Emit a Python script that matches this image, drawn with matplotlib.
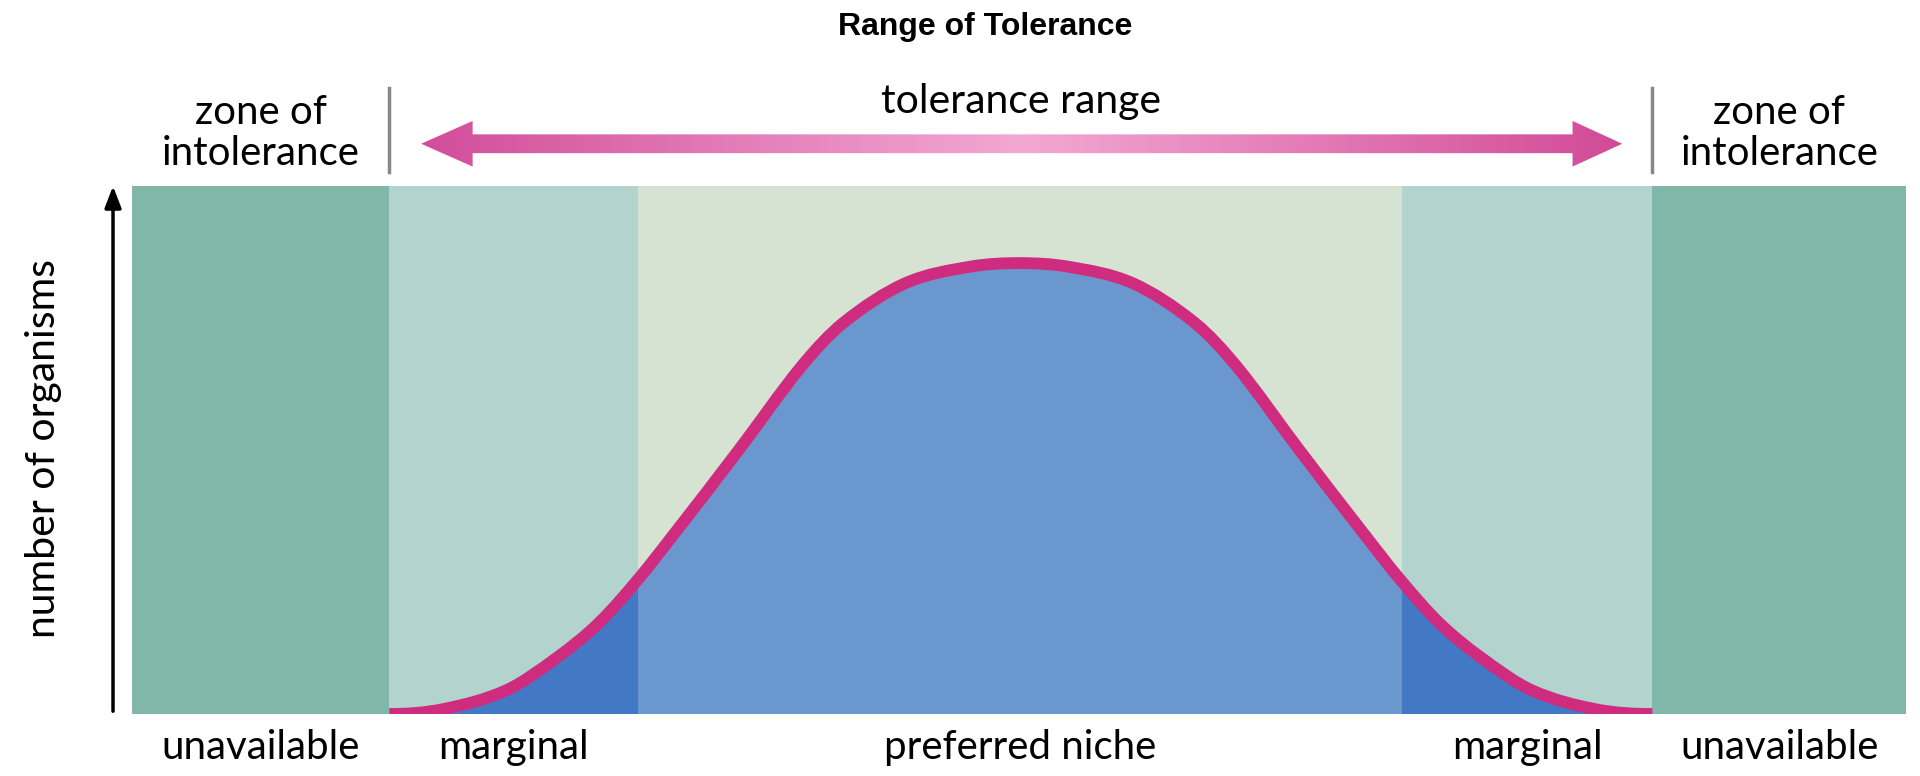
import numpy as np
import matplotlib
matplotlib.use("Agg")
import matplotlib.pyplot as plt
from matplotlib.patches import Polygon, PathPatch, Rectangle
from matplotlib.path import Path
from matplotlib.colors import LinearSegmentedColormap

plt.rcParams['font.family'] = ['Lato', 'DejaVu Sans']

# zones along the environmental gradient (0-100)
zone_edges = [0, 14.5, 28.5, 71.6, 85.7, 100]
zone_labels = ['unavailable', 'marginal', 'preferred niche', 'marginal', 'unavailable']
zone_colors = ['#80b7a8', '#b3d4ce', '#d6e3d3', '#b3d4ce', '#80b7a8']

# population curve
curve_x = [14.5, 17.5, 21.1, 24.0, 26.3, 28.5, 30.6, 34.2, 37.7, 40.1, 43.6, 47.2, 50.0,
           52.8, 56.4, 59.9, 62.3, 65.8, 69.4, 71.5, 73.7, 76.0, 78.9, 82.5, 85.7]
curve_y = [0.0, 0.9, 4.5, 10.8, 17.2, 25.4, 34.3, 50.0, 65.7, 74.1, 81.6, 84.7, 85.4,
           84.7, 81.6, 74.1, 65.7, 50.0, 34.3, 25.4, 17.2, 10.8, 4.5, 0.9, 0.0]


def smooth_path(xs, ys, close_to_base=False):
    # piecewise cubic y(x) through the points, flat at both feet
    xs = np.asarray(xs, float)
    ys = np.asarray(ys, float)
    m = np.zeros(len(xs))
    m[1:-1] = (ys[2:] - ys[:-2]) / (xs[2:] - xs[:-2])
    verts = [(xs[0], ys[0])]
    codes = [Path.MOVETO]
    for i in range(len(xs) - 1):
        h = xs[i + 1] - xs[i]
        verts += [(xs[i] + h / 3, ys[i] + m[i] * h / 3),
                  (xs[i + 1] - h / 3, ys[i + 1] - m[i + 1] * h / 3),
                  (xs[i + 1], ys[i + 1])]
        codes += [Path.CURVE4] * 3
    if close_to_base:
        verts += [(xs[0], ys[0]), (xs[0], ys[0])]
        codes += [Path.LINETO, Path.CLOSEPOLY]
    return Path(verts, codes)


fig = plt.figure(figsize=(19.2, 7.76), dpi=100)
ax = fig.add_axes([0.06875, 0.0799, 0.924, 0.6804])

for i in range(len(zone_labels)):
    ax.axvspan(zone_edges[i], zone_edges[i + 1], color=zone_colors[i], lw=0, zorder=0)
    ax.text((zone_edges[i] + zone_edges[i + 1]) / 2, -6.3, zone_labels[i],
            ha='center', va='center', fontsize=29, clip_on=False)

fill_path = smooth_path(curve_x, curve_y, close_to_base=True)
ax.add_patch(PathPatch(fill_path, fc='#6b97cf', ec='none', zorder=1))
for a, b in [(zone_edges[1], zone_edges[2]), (zone_edges[3], zone_edges[4])]:
    clip = Rectangle((a, 0), b - a, 100, transform=ax.transData)
    dark = PathPatch(fill_path, fc='#4378c4', ec='none', zorder=1)
    ax.add_patch(dark)
    dark.set_clip_path(clip)
ax.add_patch(PathPatch(smooth_path(curve_x, curve_y), fc='none', ec='#cf2c80', lw=8.5,
                       capstyle='butt', joinstyle='round', zorder=2))

ax.set_xlim(0, 100)
ax.set_ylim(0, 100)
ax.axis('off')

# y axis arrow and label
ax.annotate('', xy=(-1.07, 100.5), xytext=(-1.07, 0), xycoords='data',
            arrowprops=dict(arrowstyle='-|>,head_length=1.3,head_width=0.5', color='black', lw=2.5),
            annotation_clip=False)
ax.text(-5.0, 50.2, 'number of organisms', rotation=90, ha='center', va='center', fontsize=29.5, clip_on=False)

# separators and zone of intolerance labels
for xe in [zone_edges[1], zone_edges[4]]:
    ax.plot([xe, xe], [102.7, 118.6], color='#888888', lw=2.5, clip_on=False)
for xm in [(zone_edges[0] + zone_edges[1]) / 2, (zone_edges[4] + zone_edges[5]) / 2]:
    ax.text(xm, 110.0, 'zone of\nintolerance', ha='center', va='center', fontsize=29,
            linespacing=1.15, clip_on=False)

ax.text(50.1, 116.0, 'tolerance range', ha='center', va='center', fontsize=29.5, clip_on=False)
ax.text(48.1, 130.2, 'Range of Tolerance', ha='center', va='center', fontsize=23,
        fontweight='bold', family='Liberation Sans', clip_on=False)

# gradient double arrow
aax = fig.add_axes([0.06875, 0.778, 0.924, 0.0735])
aax.set_xlim(0, 100)
aax.set_ylim(-1, 1)
aax.axis('off')
tip_l, base_l, base_r, tip_r = 16.3, 19.2, 81.2, 84.0
hh, sh = 0.8, 0.33
verts = [(tip_l, 0), (base_l, hh), (base_l, sh), (base_r, sh), (base_r, hh), (tip_r, 0),
         (base_r, -hh), (base_r, -sh), (base_l, -sh), (base_l, -hh)]
poly = Polygon(verts, closed=True, fc='none', ec='none')
aax.add_patch(poly)
cmap = LinearSegmentedColormap.from_list('pinkgrad', ['#d24d9a', '#f3a8d3', '#d24a97'])
grad = np.linspace(0, 1, 512).reshape(1, -1)
im = aax.imshow(grad, cmap=cmap, extent=[tip_l, tip_r, -1, 1], aspect='auto', interpolation='bilinear')
im.set_clip_path(poly)
aax.set_xlim(0, 100)
aax.set_ylim(-1, 1)

fig.savefig('out.png', dpi=100)
